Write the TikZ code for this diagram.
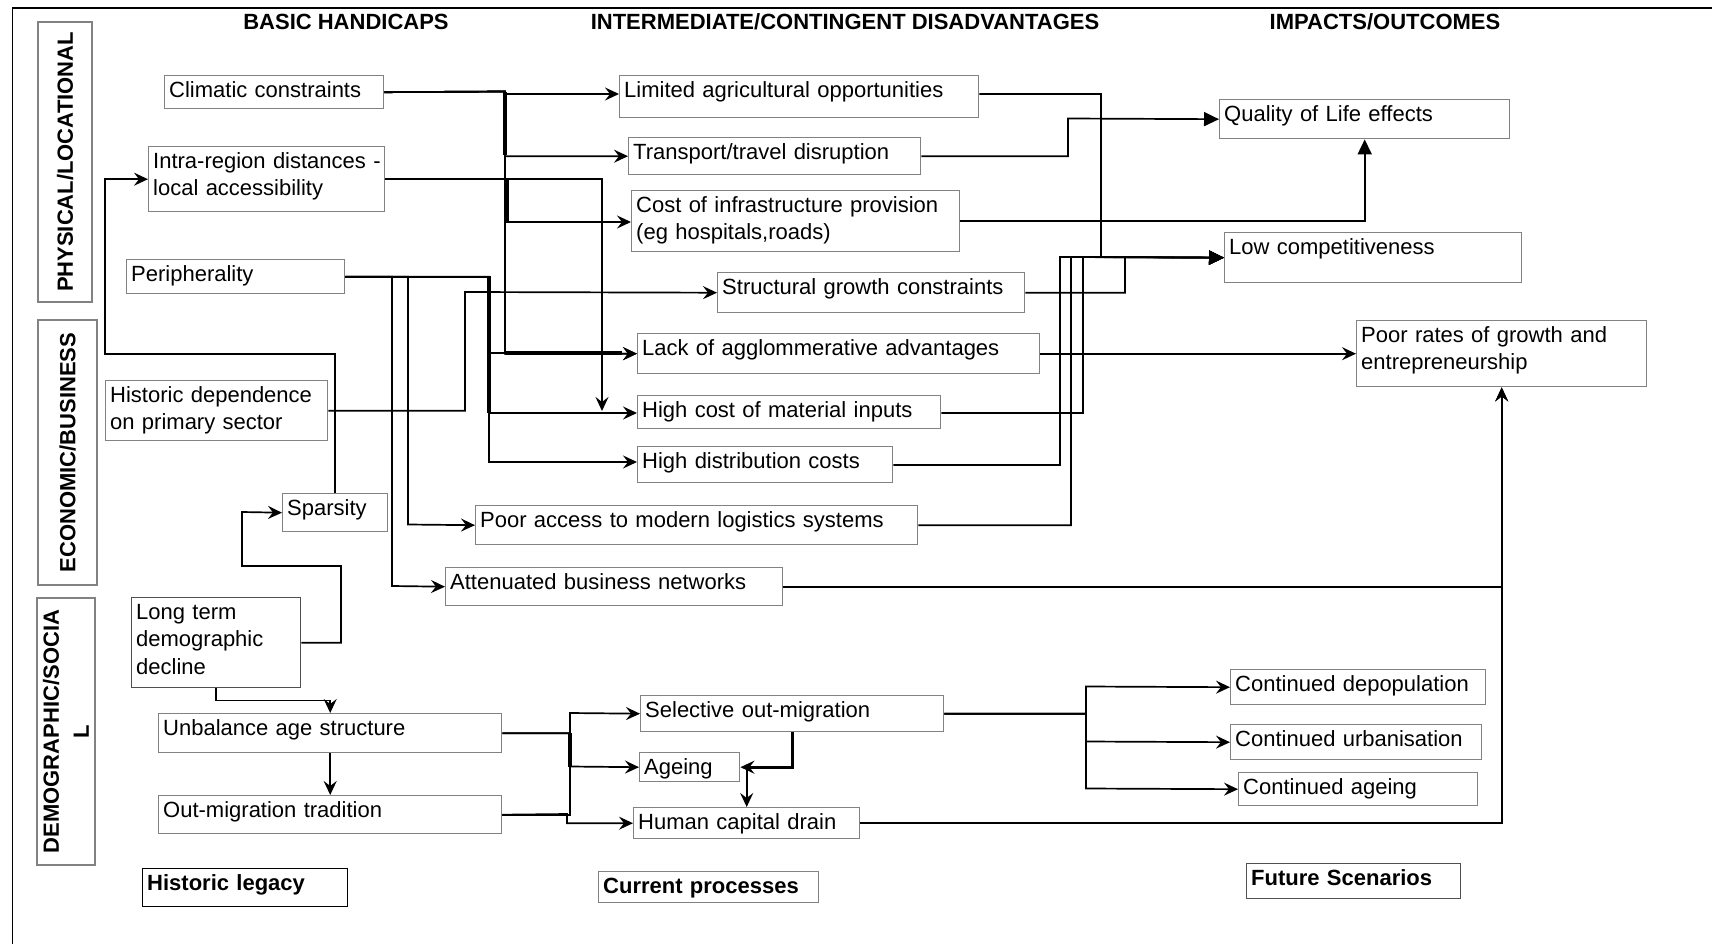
\documentclass[tikz,border=0pt]{standalone}
\usepackage{fontspec}
\setmainfont{Liberation Sans}
\usetikzlibrary{arrows.meta}
\definecolor{boxgray}{RGB}{130,130,130}
\definecolor{boxdark}{RGB}{80,80,80}
\tikzset{
 bx/.style={draw=boxgray, line width=1.4pt, rectangle, anchor=north west, inner xsep=4.5pt, inner ysep=5.5pt, text height=16pt, align=left, font=\fontsize{22}{27.5}\selectfont},
 lblfont/.style={font=\bfseries\fontsize{22}{27.5}\selectfont},
 cat/.style={draw=boxgray, line width=1.4pt, rectangle, inner sep=0pt, font=\bfseries\fontsize{22}{30}\selectfont, align=center},
 hdr/.style={anchor=base, font=\bfseries\fontsize{22}{26}\selectfont, inner sep=0pt},
 conn/.style={line width=1.7pt},
 heavy/.style={line width=3.2pt},
 arr/.style={-{Stealth[length=14pt,width=13pt,inset=5pt]}},
 tri/.style={-{Triangle[length=15pt,width=14pt]}},
}
\newcommand\mybox[7][]{\node[bx,#1,text width={#5-9},text depth={#6-27}] (#2) at (#3,#4) {#7};}
\begin{document}
\begin{tikzpicture}[x=1pt,y=-1pt]
\useasboundingbox (0,0) rectangle (1712,944);
% frame
\draw[line width=1.7pt] (12.6,960) -- (12.6,8.3) -- (1730,8.3);
% headers
\node[hdr] (hbasic) at (346,29.5) {BASIC HANDICAPS};
\node[hdr] (hinter) at (845,29.5) {INTERMEDIATE/CONTINGENT DISADVANTAGES};
\node[hdr] (himpact) at (1385,29.5) {IMPACTS/OUTCOMES};
% category labels
\node[cat, minimum width=280, minimum height=54, rotate=90] (cphys) at (65,162) {PHYSICAL/LOCATIONAL};
\node[cat, minimum width=265, minimum height=59, rotate=90] (cecon) at (67.5,452.5) {ECONOMIC/BUSINESS};
\node[cat, minimum width=267, minimum height=58, rotate=90] (cdemo) at (66,731.5) {DEMOGRAPHIC/SOCIA\\L};
% boxes
\mybox{clim}{164}{75}{219}{33}{\mbox{Climatic constraints}}
\mybox{intra}{148}{146}{236}{65}{\mbox{Intra-region distances -}\\\mbox{local accessibility}}
\mybox{periph}{126}{259}{218}{34}{Peripherality}
\mybox{hist}{105}{380}{222}{60}{\mbox{Historic dependence}\\\mbox{on primary sector}}
\mybox{spars}{282}{493}{105}{38}{Sparsity}
\mybox[draw=boxdark]{longt}{131}{597}{169}{90}{Long term\\demographic\\decline}
\mybox{unbal}{158}{713}{343}{39}{\mbox{Unbalance age structure}}
\mybox{outmt}{158}{795}{343}{38}{\mbox{Out-migration tradition}}
\mybox{limag}{619}{75}{359}{42}{\mbox{Limited agricultural opportunities}}
\mybox{trans}{628}{137}{292}{37}{\mbox{Transport/travel disruption}}
\mybox{costi}{631}{190}{328}{61}{\mbox{Cost of infrastructure provision}\\\mbox{(eg hospitals,roads)}}
\mybox{struc}{717}{272}{307}{40}{\mbox{Structural growth constraints}}
\mybox{lack}{637}{333}{402}{40}{\mbox{Lack of agglommerative advantages}}
\mybox{hcost}{637}{395}{303}{33}{\mbox{High cost of material inputs}}
\mybox{hdist}{637}{446}{255}{36}{\mbox{High distribution costs}}
\mybox{poora}{475}{505}{442}{39}{\mbox{Poor access to modern logistics systems}}
\mybox{atten}{445}{567}{337}{38}{\mbox{Attenuated business networks}}
\mybox{selec}{640}{695}{303}{36}{\mbox{Selective out-migration}}
\mybox{ageing}{639}{752}{100}{29}{Ageing}
\mybox{human}{633}{807}{226}{31}{\mbox{Human capital drain}}
\mybox{qual}{1219}{99}{290}{39}{\mbox{Quality of Life effects}}
\mybox{lowc}{1224}{232}{297}{50}{\mbox{Low competitiveness}}
\mybox{poorr}{1356}{320}{290}{66}{\mbox{Poor rates of growth and}\\\mbox{entrepreneurship}}
\mybox{cdep}{1230}{669}{255}{35}{\mbox{Continued depopulation}}
\mybox{curb}{1230}{724}{251}{35}{\mbox{Continued urbanisation}}
\mybox{cage}{1238}{772}{239}{33}{\mbox{Continued ageing}}
\mybox[draw=black,lblfont]{hleg}{142}{868}{205}{38}{\mbox{Historic legacy}}
\mybox[lblfont]{cproc}{598}{871}{220}{31}{\mbox{Current processes}}
\mybox[draw=boxdark,lblfont]{fscen}{1246}{863}{214}{35}{\mbox{Future Scenarios}}
% climatic constraints
\draw[conn,arr] (clim.east) -- (505,91.5) |- (limag.west |- 0,94);
\draw[conn,arr] (clim.east) -- (505,91.5) |- (trans.west);
\draw[conn,arr] (clim.east) -- (505,91.5) |- (costi.west |- 0,222);
\draw[conn,arr] (clim.east) -- (505,91.5) |- (lack.west);
\draw[heavy] (505,92) -- (505,155.5);
\draw[heavy] (507,178) -- (507,222);
\draw[heavy] (505,353) -- (622,353);
% intra-region
\coordinate (j1) at (602,411);
\draw[conn,arr] (intra.east) -| (j1);
% sparsity -> intra-region
\draw[conn,arr] (spars.north) |- (105,354) |- (intra.west);
% peripherality
\draw[conn,arr] (periph.east) -| (489,353) -- (lack.west);
\draw[conn,arr] (periph.east) -| (489,413) -- (hcost.west |- 0,413);
\draw[conn,arr] (periph.east) -| (489,462) -- (hdist.west |- 0,462);
\draw[heavy] (489,276) -- (489,413);
\draw[conn,arr] (periph.east) -| (408,524.5) -- (poora.west);
\draw[conn,arr] (periph.east) -| (392,586) -- (atten.west);
% historic dependence
\draw[conn,arr] (hist.east) -| (465,292) -- (struc.west);
% long term decline
\draw[conn,arr] (longt.east) -| (341,566) -| (242,512) -- (spars.west);
\draw[conn,arr] (longt.south) -- ++(0,12) -| (unbal.north);
\draw[conn,arr] (unbal.south) -- (outmt.north);
% unbalance / out-migration
\draw[conn,arr] (unbal.east) -| (570,713) -- (selec.west);
\draw[conn,arr] (unbal.east) -| (570,766.5) -- (ageing.west);
\draw[conn] (outmt.east) -| (570,732.5);
\draw[conn,arr] (outmt.east) -- (567,814) |- (human.west);
\draw[heavy] (570,732.5) -- (570,766.5);
% selective -> ageing -> human capital
\draw[heavy,arr] (selec.south) |- (ageing.east);
\draw[conn,arr] (ageing.east -| human.north) -- (human.north);
% selective -> continued
\draw[conn,arr] (selec.east) -| (1086,686.5) -- (cdep.west);
\draw[conn,arr] (selec.east) -| (1086,741.5) -- (curb.west);
\draw[conn,arr] (selec.east) -| (1086,788.5) -- (cage.west);
\draw[line width=2.8pt] (1086,713) -- (1086,741.5);
% poor rates
\draw[conn,arr] (human.east) -| (poorr.south);
\draw[conn,arr] (atten.east) -| (poorr.south);
\draw[conn,arr] (lack.east) -- (poorr.west);
% low competitiveness
\draw[conn,tri] (limag.east |- 0,94) -| (1101,257) -- (lowc.west);
\draw[conn,tri] (struc.east) -| (1125,257) -- (lowc.west);
\draw[conn,tri] (hcost.east |- 0,413) -| (1083,257) -- (lowc.west);
\draw[conn,tri] (hdist.east |- 0,465) -| (1060,257) -- (lowc.west);
\draw[conn,tri] (poora.east) -| (1071,257) -- (lowc.west);
% quality of life
\draw[conn,tri] (trans.east) -| (1068,118.5) -- (qual.west);
\draw[conn,tri] (costi.east |- 0,221) -| (qual.south);
\end{tikzpicture}
\end{document}
